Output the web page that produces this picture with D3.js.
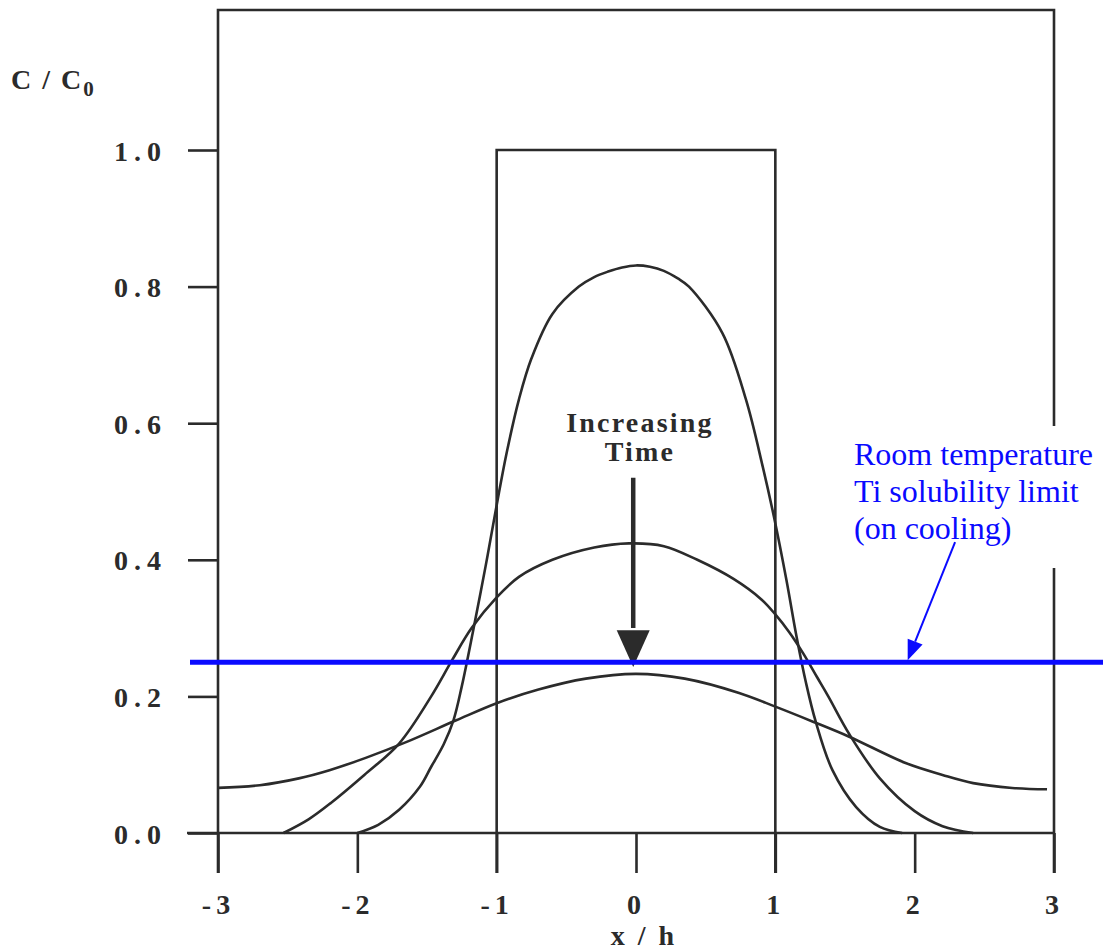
<!DOCTYPE html>
<html>
<head>
<meta charset="utf-8">
<script src="https://cdn.jsdelivr.net/npm/d3@7"></script>
<style>
	body { margin: 0; background: #fff; }
	svg { display: block; }
	text { font-family: "Liberation Serif", "Times New Roman", serif; }
</style>
</head>
<body>
<div id="chart"></div>
<script>

// axis ticks
var xTicks = [-3, -2, -1, 0, 1, 2, 3];
var xTickLabels = ["-3", "-2", "-1", "0", "1", "2", "3"];
var yTicks = [0, 0.2, 0.4, 0.6, 0.8, 1.0];
var yTickLabels = ["0.0", "0.2", "0.4", "0.6", "0.8", "1.0"];

// initial slab, C/C0 = 1 between -h and h
var slabEdges = [-1, 1];
var slabLevel = 1.0;

// profiles, [x/h, C/C0]
var profileEarly = [
	[-2.0, 0], [-1.85, 0.012], [-1.7, 0.034], [-1.55, 0.068], [-1.47, 0.097],
	[-1.38, 0.13], [-1.31, 0.165], [-1.25, 0.215], [-1.17, 0.295], [-1.08, 0.39],
	[-1.0, 0.48], [-0.93, 0.555], [-0.84, 0.635], [-0.75, 0.695], [-0.6, 0.76],
	[-0.41, 0.80], [-0.3, 0.814], [-0.2, 0.822], [-0.1, 0.828], [0, 0.831],
	[0.1, 0.829], [0.2, 0.823], [0.3, 0.812], [0.38, 0.80],
	[0.62, 0.732], [0.79, 0.634], [0.91, 0.536], [0.99, 0.463], [1.08, 0.37],
	[1.15, 0.29], [1.22, 0.22], [1.29, 0.163], [1.41, 0.092], [1.58, 0.038],
	[1.75, 0.009], [1.91, 0]
];
var profileMiddle = [
	[-2.53, 0], [-2.35, 0.02], [-2.19, 0.044], [-1.95, 0.085], [-1.7, 0.131],
	[-1.47, 0.20], [-1.32, 0.253], [-1.18, 0.30], [-1.0, 0.345], [-0.84, 0.375],
	[-0.6, 0.40], [-0.3, 0.418], [-0.05, 0.424], [0.2, 0.42], [0.44, 0.40],
	[0.7, 0.372], [0.9, 0.342], [1.0, 0.32], [1.1, 0.294], [1.2, 0.263],
	[1.3, 0.228], [1.38, 0.20], [1.53, 0.145], [1.75, 0.08], [2.0, 0.032],
	[2.2, 0.01], [2.42, 0]
];
var profileLate = [
	[-3.0, 0.066], [-2.7, 0.07], [-2.42, 0.08], [-2.2, 0.092], [-1.94, 0.11],
	[-1.65, 0.133], [-1.29, 0.165], [-1.0, 0.19], [-0.7, 0.21], [-0.36, 0.226],
	[0, 0.233], [0.35, 0.226], [0.74, 0.205], [1.0, 0.185], [1.27, 0.163],
	[1.53, 0.141], [1.94, 0.102], [2.2, 0.085], [2.42, 0.073], [2.7, 0.066],
	[2.95, 0.064]
];

// room temperature solubility limit
var solubilityLimit = 0.25;
var noteLines = ["Room temperature", "Ti solubility limit", "(on cooling)"];
var timeLines = ["Increasing", "Time"];


// chart options
var width = 1103, height = 951;
var ink = "#2b2b2b";
var blue = "#0a0aff";
var frameTop = 10, tickBottom = 873;

var x = d3.scaleLinear().domain([-3, 3]).range([218, 1054]);
var y = d3.scaleLinear().domain([0, 1]).range([833, 150]);

var svg = d3.select("#chart").append("svg")
	.attr("width", width)
	.attr("height", height);

// outer frame (left, top, right)
svg.append("path")
	.attr("d", "M" + x(-3) + "," + tickBottom + "V" + frameTop + "H" + x(3) + "V" + tickBottom)
	.attr("fill", "none")
	.attr("stroke", ink)
	.attr("stroke-width", 2.6);

// baseline
svg.append("line")
	.attr("x1", 187).attr("x2", x(3))
	.attr("y1", y(0)).attr("y2", y(0))
	.attr("stroke", ink).attr("stroke-width", 2.6);

// initial slab
svg.append("path")
	.attr("d", "M" + x(slabEdges[0]) + "," + tickBottom + "V" + y(slabLevel) +
		"H" + x(slabEdges[1]) + "V" + tickBottom)
	.attr("fill", "none")
	.attr("stroke", ink)
	.attr("stroke-width", 2.6);

// y axis
var yAxis = d3.axisLeft(y)
	.tickValues(yTicks)
	.tickSize(30)
	.tickPadding(21)
	.tickFormat(function(d, i) { return yTickLabels[i]; });

var gy = svg.append("g")
	.attr("transform", "translate(" + x(-3) + ",0)")
	.call(yAxis);
gy.select(".domain").remove();
gy.selectAll("line").attr("stroke", ink).attr("stroke-width", 2.6);
gy.selectAll("text")
	.attr("fill", ink)
	.attr("font-size", 28)
	.attr("font-weight", "bold")
	.attr("letter-spacing", 6)
	.attr("dy", "0.36em")
	.style("font-family", "'Liberation Serif', serif");

// x axis
var xAxis = d3.axisBottom(x)
	.tickValues(xTicks)
	.tickSize(40)
	.tickFormat(function(d, i) { return xTickLabels[i]; });

var gx = svg.append("g")
	.attr("transform", "translate(0," + y(0) + ")")
	.call(xAxis);
gx.select(".domain").remove();
gx.selectAll("line").attr("stroke", ink).attr("stroke-width", 2.6);
gx.selectAll("text")
	.attr("fill", ink)
	.attr("font-size", 28)
	.attr("font-weight", "bold")
	.attr("letter-spacing", 5)
	.attr("y", 81)
	.attr("dy", 0)
	.style("font-family", "'Liberation Serif', serif");

// axis titles
svg.append("text")
	.attr("x", 11).attr("y", 89)
	.attr("fill", ink)
	.attr("font-size", 28)
	.attr("font-weight", "bold")
	.attr("letter-spacing", 2)
	.text("C / C")
	.append("tspan")
		.attr("dy", 7)
		.attr("font-size", 21)
		.text("0");

svg.append("text")
	.attr("x", x(0) + 8).attr("y", 945)
	.attr("text-anchor", "middle")
	.attr("fill", ink)
	.attr("font-size", 28)
	.attr("font-weight", "bold")
	.attr("letter-spacing", 3)
	.text("x / h");

// profiles
var line = d3.line()
	.x(function(d) { return x(d[0]); })
	.y(function(d) { return y(d[1]); })
	.curve(d3.curveCatmullRom.alpha(0.5));

svg.append("g")
	.selectAll("path")
	.data([profileEarly, profileMiddle, profileLate])
	.enter().append("path")
		.attr("d", line)
		.attr("fill", "none")
		.attr("stroke", ink)
		.attr("stroke-width", 2.6);

// "Increasing Time" arrow
svg.append("text")
	.attr("x", x(0) + 4).attr("y", 432)
	.attr("text-anchor", "middle")
	.attr("fill", ink)
	.attr("font-size", 28)
	.attr("font-weight", "bold")
	.attr("letter-spacing", 2.2)
	.selectAll("tspan")
	.data(timeLines)
	.enter().append("tspan")
		.attr("x", x(0) + 4)
		.attr("dy", function(d, i) { return i ? 29 : 0; })
		.text(function(d) { return d; });

var ax = x(-0.02);
svg.append("line")
	.attr("x1", ax).attr("x2", ax)
	.attr("y1", y(0.52)).attr("y2", y(0.3))
	.attr("stroke", ink).attr("stroke-width", 4.5);
svg.append("path")
	.attr("d", "M" + (ax - 16.5) + "," + y(0.297) + "L" + (ax + 16.5) + "," + y(0.297) +
		"L" + ax + "," + y(0.243) + "Z")
	.attr("fill", ink);

// white box behind the blue note
svg.append("rect")
	.attr("x", 838).attr("y", 426)
	.attr("width", width - 838).attr("height", 142)
	.attr("fill", "#fff");

// solubility limit
svg.append("line")
	.attr("x1", 190).attr("x2", width)
	.attr("y1", y(solubilityLimit)).attr("y2", y(solubilityLimit))
	.attr("stroke", blue).attr("stroke-width", 5);

svg.append("text")
	.attr("fill", blue)
	.attr("font-size", 32)
	.selectAll("tspan")
	.data(noteLines)
	.enter().append("tspan")
		.attr("x", 854)
		.attr("y", function(d, i) { return 465 + i * 37; })
		.text(function(d) { return d; });

// note arrow
var p0 = [x(2.29), y(0.426)], p1 = [x(1.95), y(0.253)];
var ang = Math.atan2(p1[1] - p0[1], p1[0] - p0[0]);
var headLen = 20, headHalf = 8;
var base = [p1[0] - headLen * Math.cos(ang), p1[1] - headLen * Math.sin(ang)];
svg.append("line")
	.attr("x1", p0[0]).attr("y1", p0[1])
	.attr("x2", base[0]).attr("y2", base[1])
	.attr("stroke", blue).attr("stroke-width", 2);
svg.append("path")
	.attr("d", "M" + p1[0] + "," + p1[1] +
		"L" + (base[0] + headHalf * Math.sin(ang)) + "," + (base[1] - headHalf * Math.cos(ang)) +
		"L" + (base[0] - headHalf * Math.sin(ang)) + "," + (base[1] + headHalf * Math.cos(ang)) + "Z")
	.attr("fill", blue);

</script>
</body>
</html>
